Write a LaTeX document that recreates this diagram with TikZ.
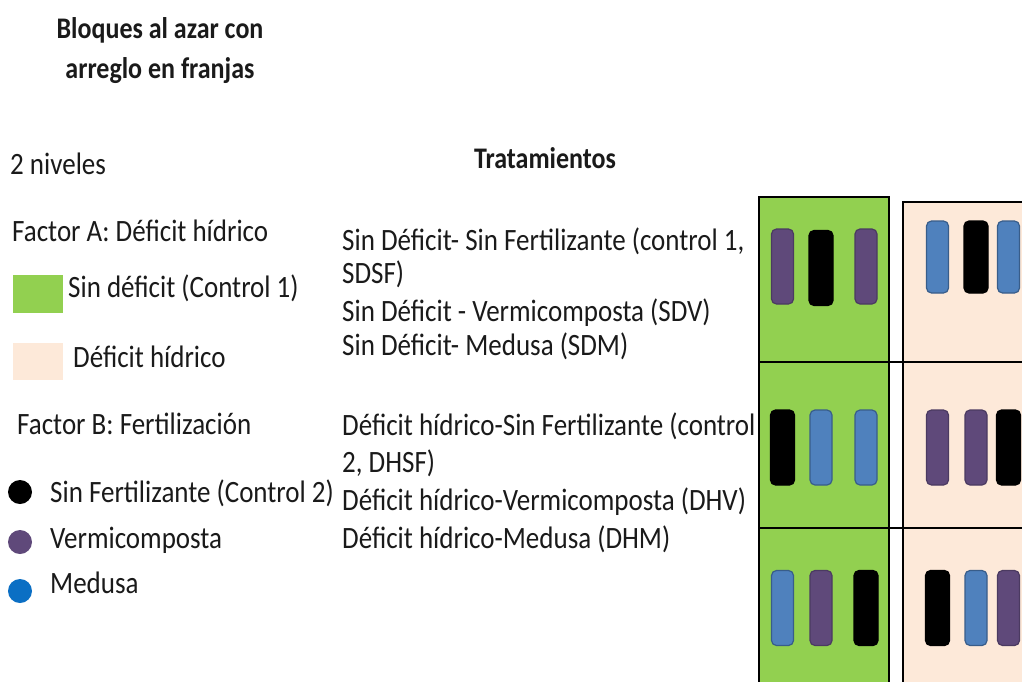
\documentclass[tikz,border=0pt]{standalone}
\usepackage{fontspec}
\setmainfont{Carlito}
\definecolor{cgreen}{HTML}{92D050}
\definecolor{cpeach}{HTML}{FDE9D9}
\definecolor{cpurple}{HTML}{5F497A}
\definecolor{cpurpled}{HTML}{4B3A61}
\definecolor{cblue}{HTML}{4F81BD}
\definecolor{cblued}{HTML}{385D8A}
\definecolor{cdotblue}{HTML}{0B6FC4}
\definecolor{ctext}{HTML}{1A1A1A}
\tikzset{
  txt/.style={anchor=base west, inner sep=0pt, text=ctext, font=\fontsize{27}{33}\selectfont, yscale=1.15, transform shape},
  ttl/.style={anchor=base, inner sep=0pt, text=ctext, font=\fontsize{26}{33}\selectfont\bfseries, yscale=1.15, transform shape},
  bar/.style={draw, line width=1.2pt, rounded corners=5pt, minimum width=22pt, minimum height=75pt, inner sep=0pt},
  pbar/.style={bar, fill=cpurple, draw=cpurpled},
  bbar/.style={bar, fill=cblue, draw=cblued},
  kbar/.style={bar, fill=black, draw=black, minimum width=24pt},
  dot/.style={circle, minimum size=24pt, inner sep=0pt},
  cell/.style={draw=black, line width=2.8pt}
}
\begin{document}
\begin{tikzpicture}[x=1pt,y=-1pt]
\useasboundingbox (0,0) rectangle (1022,681);
\clip (0,0) rectangle (1022,681);
\fill[white] (0,0) rectangle (1022,681);
% title
\node[ttl] (t1) at (160,38) {Bloques al azar con};
\node[ttl] (t2) at (160,78) {arreglo en franjas};
\node[ttl] (trat) at (545,168) {Tratamientos};
% left legend
\node[txt] (niv) at (10,174) {2 niveles};
\node[txt] (fa) at (12,241) {Factor A: Déficit hídrico};
\node[fill=cgreen, minimum width=50pt, minimum height=38pt, inner sep=0pt, anchor=north west] (sqg) at (13,275) {};
\node[txt] (sd) at (68,297) {Sin déficit (Control 1)};
\node[fill=cpeach, minimum width=50pt, minimum height=37pt, inner sep=0pt, anchor=north west] (sqp) at (13,343) {};
\node[txt] (dh) at (73,367) {Déficit hídrico};
\node[txt] (fb) at (17,434) {Factor B: Fertilización};
\node[dot, fill=black] (d1) at (20,492) {};
\node[txt] (l1) at (50,502) {Sin Fertilizante (Control 2)};
\node[dot, fill=cpurple] (d2) at (20,542) {};
\node[txt] (l2) at (50,548) {Vermicomposta};
\node[dot, fill=cdotblue] (d3) at (20,591) {};
\node[txt] (l3) at (50,593) {Medusa};
% treatments
\node[txt] (s1) at (342,250) {Sin Déficit- Sin Fertilizante (control 1,};
\node[txt] (s2) at (342,283) {SDSF)};
\node[txt] (s3) at (342,321) {Sin Déficit - Vermicomposta (SDV)};
\node[txt] (s4) at (342,355) {Sin Déficit- Medusa (SDM)};
\node[txt] (h1) at (342,435) {Déficit hídrico-Sin Fertilizante (control};
\node[txt] (h2) at (342,472) {2, DHSF)};
\node[txt] (h3) at (342,510) {Déficit hídrico-Vermicomposta (DHV)};
\node[txt] (h4) at (342,548) {Déficit hídrico-Medusa (DHM)};
% grid
\filldraw[cell, fill=cgreen] (759,197) rectangle (889,700);
\filldraw[cell, fill=cpeach] (903,202) rectangle (1040,700);
\draw[cell] (759,362) -- (1022,362);
\draw[cell] (759,528) -- (1022,528);
% green column bars
\node[pbar] (g11) at (782.5,266.5) {};
\node[kbar] (g12) at (821,268) {};
\node[pbar] (g13) at (866,266.5) {};
\node[kbar] (g21) at (782.5,447.5) {};
\node[bbar] (g22) at (821,447.5) {};
\node[bbar] (g23) at (866,447.5) {};
\node[bbar] (g31) at (782.5,608) {};
\node[pbar] (g32) at (821,608) {};
\node[kbar] (g33) at (866,608) {};
% peach column bars
\node[bbar, minimum height=72pt] (p11) at (937.5,257) {};
\node[kbar, minimum height=72pt] (p12) at (976,257) {};
\node[bbar, minimum height=72pt] (p13) at (1008.5,257) {};
\node[pbar] (p21) at (937.5,447.5) {};
\node[pbar] (p22) at (976,447.5) {};
\node[kbar] (p23) at (1008.5,447.5) {};
\node[kbar] (p31) at (937.5,608) {};
\node[bbar] (p32) at (976,608) {};
\node[pbar] (p33) at (1008.5,608) {};
\end{tikzpicture}
\end{document}
